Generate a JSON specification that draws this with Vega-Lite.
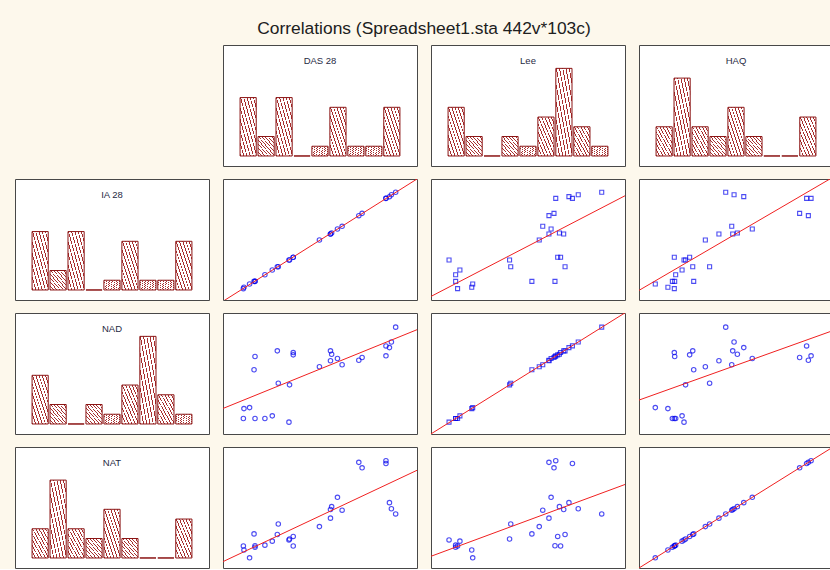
{
"$schema": "https://vega.github.io/schema/vega-lite/v6.json",
"background": "#fdf8ec",
"padding": {"left": 14, "top": 20, "right": 0, "bottom": 0},
"title": {"text": "Correlations (Spreadsheet1.sta 442v*103c)", "fontSize": 17.4, "font": "Liberation Sans", "fontWeight": "normal", "color": "#202020", "anchor": "middle", "offset": 7},
"config": {"view": {"stroke": "#484848", "strokeWidth": 1, "fill": "#ffffff"},
 "bar": {"stroke": "#8b1414", "strokeWidth": 1, "fill": {"gradient": "linear", "x1": 0, "y1": 1, "x2": 1, "y2": 0, "stops": [
  {"offset": 0, "color": "#a83030"}, {"offset": 0.028, "color": "#a83030"}, {"offset": 0.028, "color": "#ffffff"}, {"offset": 0.1, "color": "#ffffff"},
  {"offset": 0.1, "color": "#a83030"}, {"offset": 0.128, "color": "#a83030"}, {"offset": 0.128, "color": "#ffffff"}, {"offset": 0.2, "color": "#ffffff"},
  {"offset": 0.2, "color": "#a83030"}, {"offset": 0.228, "color": "#a83030"}, {"offset": 0.228, "color": "#ffffff"}, {"offset": 0.3, "color": "#ffffff"},
  {"offset": 0.3, "color": "#a83030"}, {"offset": 0.328, "color": "#a83030"}, {"offset": 0.328, "color": "#ffffff"}, {"offset": 0.4, "color": "#ffffff"},
  {"offset": 0.4, "color": "#a83030"}, {"offset": 0.428, "color": "#a83030"}, {"offset": 0.428, "color": "#ffffff"}, {"offset": 0.5, "color": "#ffffff"},
  {"offset": 0.5, "color": "#a83030"}, {"offset": 0.528, "color": "#a83030"}, {"offset": 0.528, "color": "#ffffff"}, {"offset": 0.6, "color": "#ffffff"},
  {"offset": 0.6, "color": "#a83030"}, {"offset": 0.628, "color": "#a83030"}, {"offset": 0.628, "color": "#ffffff"}, {"offset": 0.7, "color": "#ffffff"},
  {"offset": 0.7, "color": "#a83030"}, {"offset": 0.728, "color": "#a83030"}, {"offset": 0.728, "color": "#ffffff"}, {"offset": 0.8, "color": "#ffffff"},
  {"offset": 0.8, "color": "#a83030"}, {"offset": 0.828, "color": "#a83030"}, {"offset": 0.828, "color": "#ffffff"}, {"offset": 0.9, "color": "#ffffff"},
  {"offset": 0.9, "color": "#a83030"}, {"offset": 0.928, "color": "#a83030"}, {"offset": 0.928, "color": "#ffffff"}, {"offset": 1, "color": "#ffffff"}
 ]}}},
"datasets": {
"obs": [
{"DAS28":89.0,"IA28":89.0,"Lee":88.0,"NAD":88.3,"HAQ":44.7,"NAT":44.7},
{"DAS28":86.8,"IA28":87.0,"Lee":75.9,"NAD":76.0,"HAQ":49.0,"NAT":49.0},
{"DAS28":85.8,"IA28":85.4,"Lee":71.1,"NAD":71.4,"HAQ":54.0,"NAT":54.0},
{"DAS28":84.0,"IA28":84.0,"Lee":72.9,"NAD":72.8,"HAQ":86.4,"NAT":86.4},
{"DAS28":84.0,"IA28":84.0,"Lee":64.3,"NAD":64.6,"HAQ":88.7,"NAT":88.7},
{"DAS28":71.7,"IA28":71.6,"Lee":63.4,"NAD":63.2,"HAQ":82.8,"NAT":82.8},
{"DAS28":70.0,"IA28":69.7,"Lee":60.8,"NAD":61.0,"HAQ":87.3,"NAT":87.3},
{"DAS28":61.4,"IA28":60.9,"Lee":57.6,"NAD":57.2,"HAQ":47.8,"NAT":47.8},
{"DAS28":59.0,"IA28":58.7,"Lee":61.9,"NAD":62.4,"HAQ":58.4,"NAT":58.4},
{"DAS28":55.4,"IA28":54.5,"Lee":60.8,"NAD":60.5,"HAQ":41.2,"NAT":41.2},
{"DAS28":55.4,"IA28":54.5,"Lee":68.4,"NAD":68.7,"HAQ":48.3,"NAT":48.3},
{"DAS28":56.0,"IA28":55.4,"Lee":66.2,"NAD":65.9,"HAQ":50.7,"NAT":50.7},
{"DAS28":49.7,"IA28":49.6,"Lee":55.8,"NAD":55.6,"HAQ":34.2,"NAT":34.2},
{"DAS28":36.2,"IA28":35.3,"Lee":66.8,"NAD":67.3,"HAQ":18.2,"NAT":18.2},
{"DAS28":36.2,"IA28":35.3,"Lee":65.3,"NAD":65.4,"HAQ":26.1,"NAT":26.1},
{"DAS28":34.0,"IA28":33.1,"Lee":9.3,"NAD":9.8,"HAQ":23.2,"NAT":23.2},
{"DAS28":34.3,"IA28":33.1,"Lee":40.5,"NAD":40.6,"HAQ":24.0,"NAT":24.0},
{"DAS28":28.0,"IA28":27.5,"Lee":69.1,"NAD":68.7,"HAQ":27.7,"NAT":27.7},
{"DAS28":28.5,"IA28":27.5,"Lee":41.1,"NAD":42.0,"HAQ":36.4,"NAT":36.4},
{"DAS28":25.4,"IA28":24.8,"Lee":14.9,"NAD":15.0,"HAQ":22.2,"NAT":22.2},
{"DAS28":21.6,"IA28":20.9,"Lee":12.7,"NAD":12.8,"HAQ":18.9,"NAT":18.9},
{"DAS28":16.5,"IA28":15.4,"Lee":12.7,"NAD":12.8,"HAQ":17.2,"NAT":17.2},
{"DAS28":16.0,"IA28":15.4,"Lee":52.0,"NAD":53.1,"HAQ":28.2,"NAT":28.2},
{"DAS28":16.5,"IA28":15.4,"Lee":63.9,"NAD":64.0,"HAQ":18.4,"NAT":18.4},
{"DAS28":13.7,"IA28":13.2,"Lee":21.5,"NAD":21.8,"HAQ":8.4,"NAT":8.4},
{"DAS28":10.8,"IA28":10.5,"Lee":21.0,"NAD":21.0,"HAQ":14.9,"NAT":14.9},
{"DAS28":10.5,"IA28":9.4,"Lee":13.7,"NAD":12.8,"HAQ":18.2,"NAT":18.2}
],
"hist": [
{"v":"DAS 28","bin":1,"n":6},{"v":"DAS 28","bin":2,"n":2},{"v":"DAS 28","bin":3,"n":6},{"v":"DAS 28","bin":4,"n":0},{"v":"DAS 28","bin":5,"n":1},{"v":"DAS 28","bin":6,"n":5},{"v":"DAS 28","bin":7,"n":1},{"v":"DAS 28","bin":8,"n":1},{"v":"DAS 28","bin":9,"n":5},
{"v":"Lee","bin":1,"n":5},{"v":"Lee","bin":2,"n":2},{"v":"Lee","bin":3,"n":0},{"v":"Lee","bin":4,"n":2},{"v":"Lee","bin":5,"n":1},{"v":"Lee","bin":6,"n":4},{"v":"Lee","bin":7,"n":9},{"v":"Lee","bin":8,"n":3},{"v":"Lee","bin":9,"n":1},
{"v":"HAQ","bin":1,"n":3},{"v":"HAQ","bin":2,"n":8},{"v":"HAQ","bin":3,"n":3},{"v":"HAQ","bin":4,"n":2},{"v":"HAQ","bin":5,"n":5},{"v":"HAQ","bin":6,"n":2},{"v":"HAQ","bin":7,"n":0},{"v":"HAQ","bin":8,"n":0},{"v":"HAQ","bin":9,"n":4},
{"v":"IA 28","bin":1,"n":6},{"v":"IA 28","bin":2,"n":2},{"v":"IA 28","bin":3,"n":6},{"v":"IA 28","bin":4,"n":0},{"v":"IA 28","bin":5,"n":1},{"v":"IA 28","bin":6,"n":5},{"v":"IA 28","bin":7,"n":1},{"v":"IA 28","bin":8,"n":1},{"v":"IA 28","bin":9,"n":5},
{"v":"NAD","bin":1,"n":5},{"v":"NAD","bin":2,"n":2},{"v":"NAD","bin":3,"n":0},{"v":"NAD","bin":4,"n":2},{"v":"NAD","bin":5,"n":1},{"v":"NAD","bin":6,"n":4},{"v":"NAD","bin":7,"n":9},{"v":"NAD","bin":8,"n":3},{"v":"NAD","bin":9,"n":1},
{"v":"NAT","bin":1,"n":3},{"v":"NAT","bin":2,"n":8},{"v":"NAT","bin":3,"n":3},{"v":"NAT","bin":4,"n":2},{"v":"NAT","bin":5,"n":5},{"v":"NAT","bin":6,"n":2},{"v":"NAT","bin":7,"n":0},{"v":"NAT","bin":8,"n":0},{"v":"NAT","bin":9,"n":4}
]
},
"spacing": 11,
"vconcat": [
{"spacing": 14, "bounds": "flush", "hconcat": [
 {"width":194,"height":121,"view":{"stroke":null,"fill":null},"data":{"values":[{}]},"mark":{"type":"text"},"encoding":{"text":{"value":""}}},
 {"width":194,"height":121,"title":{"text":"DAS 28","offset":-20,"fontSize":9.5,"font":"Liberation Sans","fontWeight":"normal","color":"#1f2a44","anchor":"middle"},"data":{"name":"hist"},"transform":[{"filter":"datum.v === 'DAS 28'"}],"mark":{"type":"bar"},"encoding":{"x":{"field":"bin","type":"ordinal","axis":null,"scale":{"paddingInner":0.1,"paddingOuter":0.95}},"y":{"field":"n","type":"quantitative","axis":null,"scale":{"domain":[-1.03,11.4],"nice":false,"zero":false}},"y2":{"datum":0}}},
 {"width":194,"height":121,"title":{"text":"Lee","offset":-20,"fontSize":9.5,"font":"Liberation Sans","fontWeight":"normal","color":"#1f2a44","anchor":"middle"},"data":{"name":"hist"},"transform":[{"filter":"datum.v === 'Lee'"}],"mark":{"type":"bar"},"encoding":{"x":{"field":"bin","type":"ordinal","axis":null,"scale":{"paddingInner":0.1,"paddingOuter":0.95}},"y":{"field":"n","type":"quantitative","axis":null,"scale":{"domain":[-1.03,11.4],"nice":false,"zero":false}},"y2":{"datum":0}}},
 {"width":194,"height":121,"title":{"text":"HAQ","offset":-20,"fontSize":9.5,"font":"Liberation Sans","fontWeight":"normal","color":"#1f2a44","anchor":"middle"},"data":{"name":"hist"},"transform":[{"filter":"datum.v === 'HAQ'"}],"mark":{"type":"bar"},"encoding":{"x":{"field":"bin","type":"ordinal","axis":null,"scale":{"paddingInner":0.1,"paddingOuter":0.95}},"y":{"field":"n","type":"quantitative","axis":null,"scale":{"domain":[-1.03,11.4],"nice":false,"zero":false}},"y2":{"datum":0}}}
]},
{"spacing": 14, "bounds": "flush", "hconcat": [
 {"width":194,"height":121,"title":{"text":"IA 28","offset":-20,"fontSize":9.5,"font":"Liberation Sans","fontWeight":"normal","color":"#1f2a44","anchor":"middle"},"data":{"name":"hist"},"transform":[{"filter":"datum.v === 'IA 28'"}],"mark":{"type":"bar"},"encoding":{"x":{"field":"bin","type":"ordinal","axis":null,"scale":{"paddingInner":0.1,"paddingOuter":0.95}},"y":{"field":"n","type":"quantitative","axis":null,"scale":{"domain":[-1.03,11.4],"nice":false,"zero":false}},"y2":{"datum":0}}},
 {"width":194,"height":121,"data":{"name":"obs"},"layer":[
  {"mark":{"type":"point","shape":"circle","size":20,"filled":false,"color":"#0000ee","strokeWidth":1.1},"encoding":{"x":{"field":"DAS28","type":"quantitative","axis":null,"scale":{"domain":[0,100],"nice":false,"zero":false}},"y":{"field":"IA28","type":"quantitative","axis":null,"scale":{"domain":[0,100],"nice":false,"zero":false}}}},
  {"transform":[{"regression":"IA28","on":"DAS28","extent":[0,100]}],"mark":{"type":"line","color":"#f02020","strokeWidth":1,"clip":true},"encoding":{"x":{"field":"DAS28","type":"quantitative"},"y":{"field":"IA28","type":"quantitative"}}}
 ]},
 {"width":194,"height":121,"data":{"name":"obs"},"layer":[
  {"mark":{"type":"point","shape":"square","size":16,"filled":false,"color":"#0000ee","strokeWidth":1.1},"encoding":{"x":{"field":"Lee","type":"quantitative","axis":null,"scale":{"domain":[0,100],"nice":false,"zero":false}},"y":{"field":"IA28","type":"quantitative","axis":null,"scale":{"domain":[0,100],"nice":false,"zero":false}}}},
  {"transform":[{"regression":"IA28","on":"Lee","extent":[0,100]}],"mark":{"type":"line","color":"#f02020","strokeWidth":1,"clip":true},"encoding":{"x":{"field":"Lee","type":"quantitative"},"y":{"field":"IA28","type":"quantitative"}}}
 ]},
 {"width":194,"height":121,"data":{"name":"obs"},"layer":[
  {"mark":{"type":"point","shape":"square","size":16,"filled":false,"color":"#0000ee","strokeWidth":1.1},"encoding":{"x":{"field":"HAQ","type":"quantitative","axis":null,"scale":{"domain":[0,100],"nice":false,"zero":false}},"y":{"field":"IA28","type":"quantitative","axis":null,"scale":{"domain":[0,100],"nice":false,"zero":false}}}},
  {"transform":[{"regression":"IA28","on":"HAQ","extent":[0,100]}],"mark":{"type":"line","color":"#f02020","strokeWidth":1,"clip":true},"encoding":{"x":{"field":"HAQ","type":"quantitative"},"y":{"field":"IA28","type":"quantitative"}}}
 ]}
]},
{"spacing": 14, "bounds": "flush", "hconcat": [
 {"width":194,"height":121,"title":{"text":"NAD","offset":-20,"fontSize":9.5,"font":"Liberation Sans","fontWeight":"normal","color":"#1f2a44","anchor":"middle"},"data":{"name":"hist"},"transform":[{"filter":"datum.v === 'NAD'"}],"mark":{"type":"bar"},"encoding":{"x":{"field":"bin","type":"ordinal","axis":null,"scale":{"paddingInner":0.1,"paddingOuter":0.95}},"y":{"field":"n","type":"quantitative","axis":null,"scale":{"domain":[-1.03,11.4],"nice":false,"zero":false}},"y2":{"datum":0}}},
 {"width":194,"height":121,"data":{"name":"obs"},"layer":[
  {"mark":{"type":"point","shape":"circle","size":20,"filled":false,"color":"#0000ee","strokeWidth":1.1},"encoding":{"x":{"field":"DAS28","type":"quantitative","axis":null,"scale":{"domain":[0,100],"nice":false,"zero":false}},"y":{"field":"NAD","type":"quantitative","axis":null,"scale":{"domain":[0,100],"nice":false,"zero":false}}}},
  {"transform":[{"regression":"NAD","on":"DAS28","extent":[0,100]}],"mark":{"type":"line","color":"#f02020","strokeWidth":1,"clip":true},"encoding":{"x":{"field":"DAS28","type":"quantitative"},"y":{"field":"NAD","type":"quantitative"}}}
 ]},
 {"width":194,"height":121,"data":{"name":"obs"},"layer":[
  {"mark":{"type":"point","shape":"square","size":16,"filled":false,"color":"#0000ee","strokeWidth":1.1},"encoding":{"x":{"field":"Lee","type":"quantitative","axis":null,"scale":{"domain":[0,100],"nice":false,"zero":false}},"y":{"field":"NAD","type":"quantitative","axis":null,"scale":{"domain":[0,100],"nice":false,"zero":false}}}},
  {"transform":[{"regression":"NAD","on":"Lee","extent":[0,100]}],"mark":{"type":"line","color":"#f02020","strokeWidth":1,"clip":true},"encoding":{"x":{"field":"Lee","type":"quantitative"},"y":{"field":"NAD","type":"quantitative"}}}
 ]},
 {"width":194,"height":121,"data":{"name":"obs"},"layer":[
  {"mark":{"type":"point","shape":"circle","size":20,"filled":false,"color":"#0000ee","strokeWidth":1.1},"encoding":{"x":{"field":"HAQ","type":"quantitative","axis":null,"scale":{"domain":[0,100],"nice":false,"zero":false}},"y":{"field":"NAD","type":"quantitative","axis":null,"scale":{"domain":[0,100],"nice":false,"zero":false}}}},
  {"transform":[{"regression":"NAD","on":"HAQ","extent":[0,100]}],"mark":{"type":"line","color":"#f02020","strokeWidth":1,"clip":true},"encoding":{"x":{"field":"HAQ","type":"quantitative"},"y":{"field":"NAD","type":"quantitative"}}}
 ]}
]},
{"spacing": 14, "bounds": "flush", "hconcat": [
 {"width":194,"height":121,"title":{"text":"NAT","offset":-20,"fontSize":9.5,"font":"Liberation Sans","fontWeight":"normal","color":"#1f2a44","anchor":"middle"},"data":{"name":"hist"},"transform":[{"filter":"datum.v === 'NAT'"}],"mark":{"type":"bar"},"encoding":{"x":{"field":"bin","type":"ordinal","axis":null,"scale":{"paddingInner":0.1,"paddingOuter":0.95}},"y":{"field":"n","type":"quantitative","axis":null,"scale":{"domain":[-1.03,11.4],"nice":false,"zero":false}},"y2":{"datum":0}}},
 {"width":194,"height":121,"data":{"name":"obs"},"layer":[
  {"mark":{"type":"point","shape":"circle","size":20,"filled":false,"color":"#0000ee","strokeWidth":1.1},"encoding":{"x":{"field":"DAS28","type":"quantitative","axis":null,"scale":{"domain":[0,100],"nice":false,"zero":false}},"y":{"field":"NAT","type":"quantitative","axis":null,"scale":{"domain":[0,100],"nice":false,"zero":false}}}},
  {"transform":[{"regression":"NAT","on":"DAS28","extent":[0,100]}],"mark":{"type":"line","color":"#f02020","strokeWidth":1,"clip":true},"encoding":{"x":{"field":"DAS28","type":"quantitative"},"y":{"field":"NAT","type":"quantitative"}}}
 ]},
 {"width":194,"height":121,"data":{"name":"obs"},"layer":[
  {"mark":{"type":"point","shape":"circle","size":20,"filled":false,"color":"#0000ee","strokeWidth":1.1},"encoding":{"x":{"field":"Lee","type":"quantitative","axis":null,"scale":{"domain":[0,100],"nice":false,"zero":false}},"y":{"field":"NAT","type":"quantitative","axis":null,"scale":{"domain":[0,100],"nice":false,"zero":false}}}},
  {"transform":[{"regression":"NAT","on":"Lee","extent":[0,100]}],"mark":{"type":"line","color":"#f02020","strokeWidth":1,"clip":true},"encoding":{"x":{"field":"Lee","type":"quantitative"},"y":{"field":"NAT","type":"quantitative"}}}
 ]},
 {"width":194,"height":121,"data":{"name":"obs"},"layer":[
  {"mark":{"type":"point","shape":"circle","size":20,"filled":false,"color":"#0000ee","strokeWidth":1.1},"encoding":{"x":{"field":"HAQ","type":"quantitative","axis":null,"scale":{"domain":[0,100],"nice":false,"zero":false}},"y":{"field":"NAT","type":"quantitative","axis":null,"scale":{"domain":[0,100],"nice":false,"zero":false}}}},
  {"transform":[{"regression":"NAT","on":"HAQ","extent":[0,100]}],"mark":{"type":"line","color":"#f02020","strokeWidth":1,"clip":true},"encoding":{"x":{"field":"HAQ","type":"quantitative"},"y":{"field":"NAT","type":"quantitative"}}}
 ]}
]}
]
}
